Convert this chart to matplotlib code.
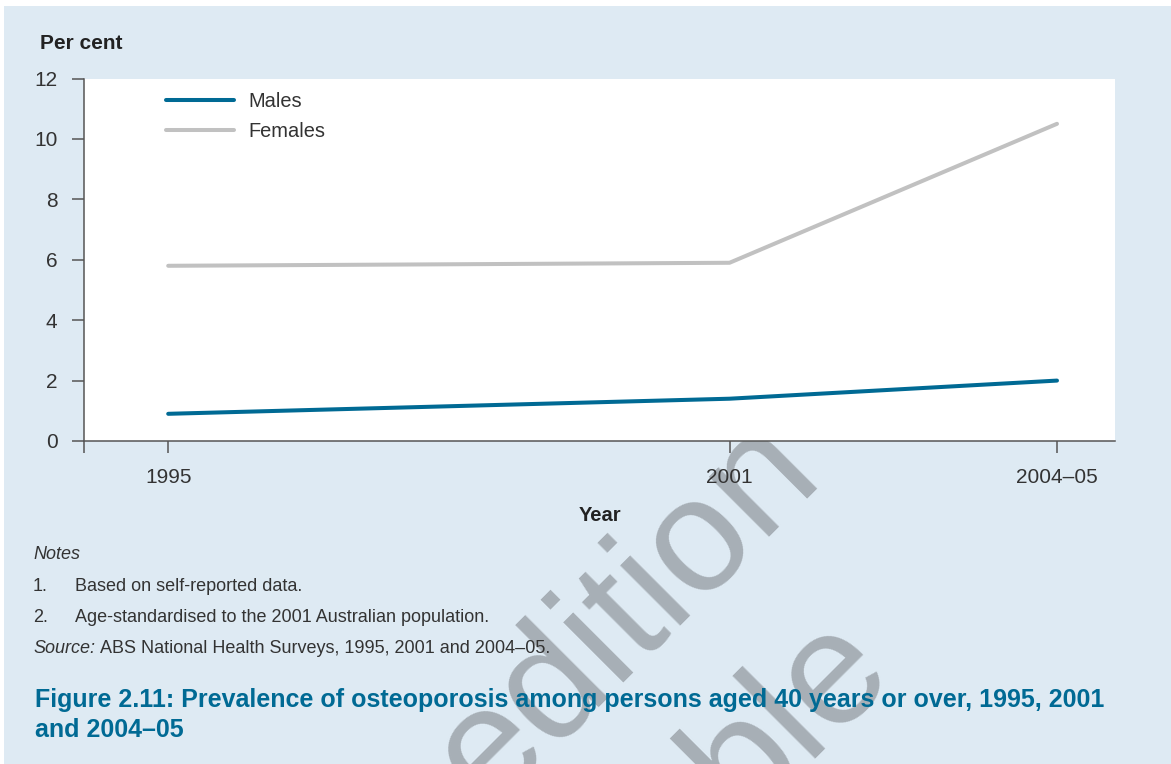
import matplotlib
matplotlib.use("Agg")
import matplotlib.pyplot as plt
from matplotlib.patches import Rectangle

plt.rcParams['font.family'] = ['Liberation Sans', 'DejaVu Sans']

# ---- data ----
year_labels = ['1995', '2001', '2004–05']
year_values = [1995, 2001, 2004.5]
males = [0.9, 1.4, 2.0]
females = [5.8, 5.9, 10.5]
series_names = ['Males', 'Females']
y_ticks = [0, 2, 4, 6, 8, 10, 12]

notes = ['Based on self-reported data.',
         'Age-standardised to the 2001 Australian population.']
source_text = 'ABS National Health Surveys, 1995, 2001 and 2004–05.'
title_lines = ['Figure 2.11: Prevalence of osteoporosis among persons aged 40 years or over, 1995, 2001',
               'and 2004–05']

# ---- style ----
W, H = 1171, 764
BG = '#deeaf3'
MALE_C = '#006a94'
FEMALE_C = '#c1c1c1'
AX_C = '#555555'
TXT_C = '#333333'

fig = plt.figure(figsize=(W / 100, H / 100), dpi=100)
fig.patch.set_facecolor('white')
fig.add_artist(Rectangle((4 / W, 0), 1 - 4 / W, 1 - 6 / H, transform=fig.transFigure,
                         facecolor=BG, edgecolor='none', zorder=-1))

def fx(px):
    return px / W

def fy(py):
    return 1 - py / H

ax = fig.add_axes([fx(84), fy(441), fx(1115) - fx(84), fy(78.5) - fy(441)])
ax.set_zorder(2)
ax.set_facecolor('white')

ax.plot(year_values, males, color=MALE_C, lw=2.9, solid_capstyle='round', label=series_names[0])
ax.plot(year_values, females, color=FEMALE_C, lw=2.9, solid_capstyle='round', label=series_names[1])

ax.set_xlim(1994.1, 2005.12)
ax.set_ylim(0, 12)
ax.set_yticks(y_ticks)
ax.set_xticks(year_values)
ax.set_xticklabels(year_labels)
ax.set_xticks([ax.get_xlim()[0]], minor=True)
ax.yaxis.set_minor_locator(matplotlib.ticker.NullLocator())

for s in ['top', 'right']:
    ax.spines[s].set_visible(False)
for s in ['left', 'bottom']:
    ax.spines[s].set_color(AX_C)
    ax.spines[s].set_linewidth(1.1)

ax.tick_params(axis='both', which='both', direction='out', length=8.6, width=1.1,
               color=AX_C, labelsize=15, labelcolor=TXT_C)
ax.tick_params(axis='y', pad=10.5)
ax.tick_params(axis='x', pad=11)

leg = ax.legend(frameon=False, loc='upper left', bbox_to_anchor=(0.0795, 0.963),
                fontsize=14.4, handlelength=3.4, handletextpad=0.7, labelspacing=0.55,
                borderpad=0, borderaxespad=0)
for t in leg.get_texts():
    t.set_color(TXT_C)

# ---- texts ----
fig.text(fx(40), fy(49), 'Per cent', fontsize=15, fontweight='bold', color='#222222',
         va='baseline', ha='left')
fig.text(fx(600), fy(521), 'Year', fontsize=14.5, fontweight='bold', color='#222222',
         va='baseline', ha='center')

NFS = 13
fig.text(fx(33), fy(559), 'Notes', fontsize=NFS, style='italic', color=TXT_C, va='baseline')
for i, (yy, n) in enumerate(zip([591, 622], notes)):
    fig.text(fx(33), fy(yy), f'{i + 1}.', fontsize=NFS, color=TXT_C, va='baseline')
    fig.text(fx(75), fy(yy), n, fontsize=NFS, color=TXT_C, va='baseline')
src = fig.text(fx(33), fy(653), 'Source:', fontsize=NFS, style='italic', color=TXT_C,
               va='baseline')
fig.text(fx(100), fy(653), source_text, fontsize=NFS, color=TXT_C, va='baseline')

for yy, line in zip([707, 737], title_lines):
    fig.text(fx(35), fy(yy), line, fontsize=18, fontweight='bold', color=MALE_C,
             va='baseline', ha='left', zorder=3)

# ---- watermark (partially outside the page, as in the reference) ----
WM_C = '#a7afb6'
fig.text(fx(488), fy(812), 'edition', fontsize=116, color=WM_C, rotation=45,
         rotation_mode='anchor', ha='left', va='baseline', zorder=1)
fig.text(fx(742), fy(822), 'ble', fontsize=116, color=WM_C, rotation=45,
         rotation_mode='anchor', ha='left', va='baseline', zorder=1)

fig.savefig('out.png', dpi=100)
